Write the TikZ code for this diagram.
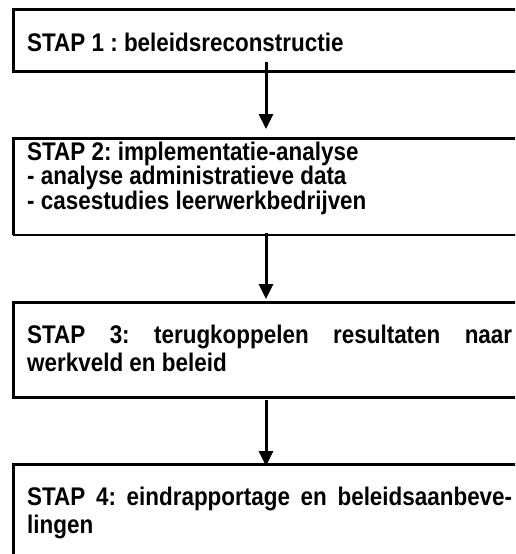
\documentclass[tikz,border=0pt]{standalone}
\usepackage{fontspec}
\usetikzlibrary{arrows.meta}
\newfontfamily\boxfont[FakeStretch=0.88]{Liberation Sans}
\begin{document}
\begin{tikzpicture}[x=1pt,y=-1pt,
  boxframe/.style={rectangle, anchor=north west, inner sep=0pt, outer sep=0pt},
  thickline/.style={line width=3pt},
  thinline/.style={line width=1.6pt},
  txt/.style={anchor=base west, inner sep=0pt, font=\boxfont\bfseries\fontsize{25.5}{30}\selectfont\frenchspacing},
  arr/.style={line width=3pt, -{Triangle[length=15pt,width=14pt]}}]
\useasboundingbox (0,0) rectangle (515,554);
\clip (0,0) rectangle (515,554);
% boxes
\node[boxframe, draw, thickline, minimum width=506pt, minimum height=62pt] (b1) at (13,9) {};
\node[boxframe, minimum width=506pt, minimum height=97pt] (b2) at (13,138) {};
\draw[thickline] (b2.south west) -- (b2.north west) -- (b2.north east) -- (b2.south east);
\draw[thinline] (b2.south west) -- (b2.south east);
\node[boxframe, draw, thickline, minimum width=506pt, minimum height=95pt] (b3) at (13,302) {};
\node[boxframe, draw, thickline, minimum width=506pt, minimum height=140pt] (b4) at (13,464) {};
% texts
\node[txt] (t1) at (27,51) {STAP 1 : beleidsreconstructie};
\node[txt] (t2a) at (27,160) {STAP 2: implementatie-analyse};
\node[txt] (t2b) at (27,184.5) {- analyse administratieve data};
\node[txt] (t2c) at (27,209) {- casestudies leerwerkbedrijven};
\node[txt] (t3a) at (27,343) {\makebox[485pt][s]{STAP 3: terugkoppelen resultaten naar}};
\node[txt] (t3b) at (27,371) {werkveld en beleid};
\node[txt] (t4a) at (27,505) {\makebox[485pt][s]{STAP 4: eindrapportage en beleidsaanbeve-}};
\node[txt] (t4b) at (27,533) {lingen};
% arrows
\draw[arr] ([yshift=9pt]b1.south) -- ([yshift=9pt]b2.north);
\draw[arr] ([yshift=2pt]b2.south) -- ([yshift=3pt]b3.north);
\draw[arr] ([yshift=-3pt]b3.south) -- ([yshift=-2pt]b4.north);
\end{tikzpicture}
\end{document}
